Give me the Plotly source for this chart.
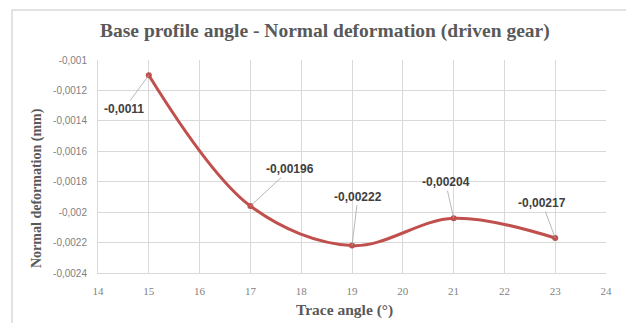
import plotly.graph_objects as go

trace_angle = [15, 17, 19, 21, 23]
deformation = [-0.0011, -0.00196, -0.00222, -0.00204, -0.00217]
label_text = ["-0,0011", "-0,00196", "-0,00222", "-0,00204", "-0,00217"]
label_ax = [-25, 40, 6, -8, -13]
label_ay = [34, -37, -49, -36, -35]

x_ticks = list(range(14, 25))
y_ticks = [-0.001, -0.0012, -0.0014, -0.0016, -0.0018, -0.002, -0.0022, -0.0024]
y_ticktext = ["-0,001", "-0,0012", "-0,0014", "-0,0016", "-0,0018", "-0,002", "-0,0022", "-0,0024"]

W, H = 626, 323
L, R, T, B = 98, 20, 60, 50
pw, ph = W - L - R, H - T - B

def px_x(p):
    return (p - L) / pw

def px_y(p):
    return (H - B - p) / ph

fig = go.Figure()
fig.add_trace(go.Scatter(
    x=trace_angle, y=deformation, mode="lines+markers",
    line=dict(color="#c0504d", width=3, shape="spline", smoothing=1),
    marker=dict(color="#c0504d", size=6),
    hoverinfo="skip", showlegend=False,
))

annotations = []
for x, y, t, ax, ay in zip(trace_angle, deformation, label_text, label_ax, label_ay):
    annotations.append(dict(
        x=x, y=y, xref="x", yref="y", text="<b>" + t + "</b>", showarrow=True,
        arrowhead=0, arrowwidth=0.8, arrowcolor="#a6a6a6", ax=ax, ay=ay,
        font=dict(family="Liberation Sans", size=12, color="#404040"),
    ))

annotations.append(dict(
    x=px_x(344), y=px_y(310), xref="paper", yref="paper",
    text="<b>Trace angle (°)</b>", showarrow=False,
    font=dict(family="Liberation Serif", size=15.5, color="#595959"),
    xanchor="center", yanchor="middle",
))
annotations.append(dict(
    x=px_x(37), y=px_y(188), xref="paper", yref="paper",
    text="<b>Normal deformation (mm)</b>", showarrow=False, textangle=-90,
    font=dict(family="Liberation Serif", size=14, color="#595959"),
    xanchor="center", yanchor="middle",
))
annotations.append(dict(
    x=px_x(325), y=px_y(31), xref="paper", yref="paper",
    text="<b>Base profile angle - Normal deformation (driven gear)</b>", showarrow=False,
    font=dict(family="Liberation Serif", size=19.5, color="#595959"),
    xanchor="center", yanchor="middle",
))

fig.update_layout(
    width=W, height=H, margin=dict(l=L, r=R, t=T, b=B),
    paper_bgcolor="white", plot_bgcolor="white",
    annotations=annotations,
    shapes=[dict(type="rect", xref="paper", yref="paper",
                 x0=px_x(12), x1=px_x(640), y0=px_y(340), y1=px_y(10),
                 line=dict(color="#d9d9d9", width=1.5), layer="below")],
)
fig.update_xaxes(
    range=[14, 24], tickvals=x_ticks, showgrid=True, gridcolor="#d9d9d9", gridwidth=1,
    zeroline=False, showline=True, linecolor="#d9d9d9", mirror=False,
    ticks="outside", ticklen=8, tickcolor="rgba(0,0,0,0)",
    tickfont=dict(family="Liberation Serif", size=11, color="#7f7f7f"),
)
fig.update_yaxes(
    range=[-0.0024, -0.001], tickvals=y_ticks, ticktext=y_ticktext,
    showgrid=True, gridcolor="#d9d9d9", gridwidth=1, zeroline=False,
    showline=True, linecolor="#d9d9d9",
    ticks="outside", ticklen=8, tickcolor="rgba(0,0,0,0)",
    tickfont=dict(family="Liberation Sans", size=10, color="#7f7f7f"),
)

fig.write_html("out.html")
